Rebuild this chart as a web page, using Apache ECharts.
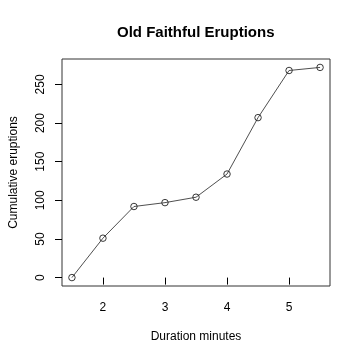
<!DOCTYPE html>
<html>
<head>
<meta charset="utf-8">
<script src="https://cdn.jsdelivr.net/npm/echarts@6/dist/echarts.min.js"></script>
<style>html,body{margin:0;padding:0;background:#fff}#c{width:360px;height:360px}</style>
</head>
<body>
<div id="c"></div>
<script>
var durations = [1.5, 2, 2.5, 3, 3.5, 4, 4.5, 5, 5.5];
var cumulative = [0, 51, 92, 97, 104, 134, 207, 268, 272];
var xTicks = [2, 3, 4, 5];
var yTicks = [0, 50, 100, 150, 200, 250];

var font = 'Liberation Sans, Arial, Helvetica, sans-serif';
var chart = echarts.init(document.getElementById('c'), null, {renderer: 'canvas'});
chart.setOption({
  animation: false,
  backgroundColor: '#fff',
  title: {
    text: 'Old Faithful Eruptions',
    left: 112, top: 20, padding: 5,
    textStyle: {fontFamily: font, fontSize: 15, fontWeight: 'bold', color: '#000'}
  },
  grid: {left: 60, right: 30, top: 59, bottom: 74, show: true, borderColor: '#333', borderWidth: 1, backgroundColor: 'transparent'},
  xAxis: {
    type: 'value', min: 1.34, max: 5.66,
    name: 'Duration minutes', nameLocation: 'middle', nameGap: 45,
    nameTextStyle: {fontFamily: font, fontSize: 12, color: '#000'},
    axisLine: {show: false},
    splitLine: {show: false},
    axisTick: {show: true, inside: false, length: 7, lineStyle: {color: '#000'}, customValues: xTicks},
    axisLabel: {fontFamily: font, fontSize: 12, color: '#000', margin: 16, customValues: xTicks}
  },
  yAxis: {
    type: 'value', min: -10.88, max: 282.88,
    name: 'Cumulative eruptions', nameLocation: 'middle', nameGap: 42,
    nameTextStyle: {fontFamily: font, fontSize: 12, color: '#000'},
    axisLine: {show: false},
    splitLine: {show: false},
    axisTick: {show: true, inside: false, length: 7, lineStyle: {color: '#000'}, customValues: yTicks},
    axisLabel: {fontFamily: font, fontSize: 12, color: '#000', margin: 15, rotate: 90, customValues: yTicks}
  },
  series: [{
    type: 'line',
    data: durations.map(function (d, i) { return [d, cumulative[i]]; }),
    symbol: 'circle', symbolSize: 6.5, showAllSymbol: true,
    itemStyle: {color: 'transparent', borderColor: '#222', borderWidth: 0.9},
    lineStyle: {color: '#222', width: 0.8}
  }]
});
</script>
</body>
</html>
